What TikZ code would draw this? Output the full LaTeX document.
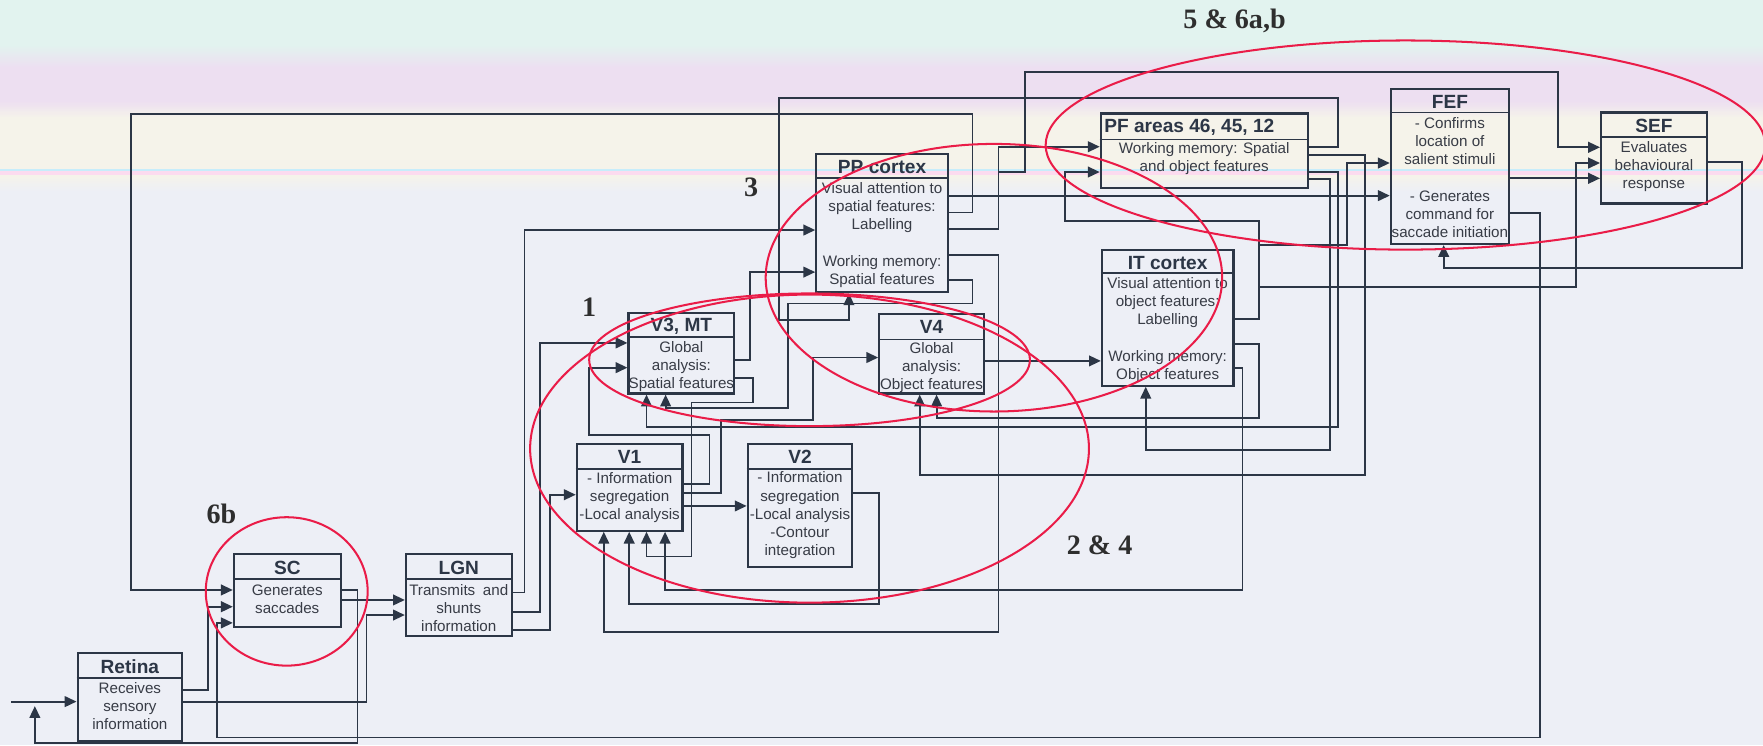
\documentclass[tikz,border=0pt]{standalone}
\usepackage{fontspec}
\setmainfont{Liberation Sans}
\newfontfamily\labelfont{Liberation Serif}
\usetikzlibrary{arrows.meta}
\definecolor{ink}{RGB}{44,54,70}
\definecolor{txt}{RGB}{56,60,70}
\definecolor{ringred}{RGB}{234,28,72}
\definecolor{bgmain}{RGB}{237,239,246}
\definecolor{bgmint}{RGB}{226,243,239}
\definecolor{bglav}{RGB}{237,223,241}
\definecolor{bgcream}{RGB}{245,243,234}
\begin{document}
\begin{tikzpicture}[x=1pt,y=-1pt,
  box/.style={draw=ink, line width=1.9pt, inner sep=0pt},
  divline/.style={draw=ink, line width=1.6pt},
  ttl/.style={font=\fontsize{17}{20}\selectfont\bfseries, text=ink, inner sep=0pt},
  body/.style={font=\fontsize{13.5}{16.2}\selectfont, text=txt, align=center, inner sep=0pt},
  wire/.style={draw=ink, line width=1.6pt},
  arr/.style={wire, -{Triangle[length=10.5pt,width=9.5pt]}},
  ring/.style={draw=ringred, line width=1.8pt},
  lbl/.style={font=\labelfont\bfseries\fontsize{25}{25}\selectfont, text=black!82, inner sep=0pt}]
\useasboundingbox (0,0) rectangle (1568,663);
% ---------- background (scan tint) ----------
\fill[bgmain] (0,0) rectangle (1568,663);
\fill[bgmint] (0,0) rectangle (1568,40);
\foreach \i in {0,...,19}{\pgfmathtruncatemacro\p{100-5*\i}\fill[bgmint!\p!bglav] (0,{40+\i}) rectangle (1568,{41+\i});}
\fill[bglav] (0,60) rectangle (1568,90);
\foreach \i in {0,...,14}{\pgfmathtruncatemacro\p{100-7*\i}\fill[bglav!\p!bgcream] (0,{90+\i}) rectangle (1568,{91+\i});}
\fill[bgcream] (0,105) rectangle (1568,150);
\foreach \i in {0,...,14}{\pgfmathtruncatemacro\p{100-7*\i}\fill[bgcream!\p!bgmain] (0,{156+\i}) rectangle (1568,{157+\i});}
\fill[cyan!22!white] (0,150) rectangle (1568,152.5);
\fill[magenta!14!white] (0,152.5) rectangle (1568,156);
% ---------- boxes ----------
\node[box, minimum width=93pt, minimum height=78pt] (retina) at (115.5,620) {};
\draw[divline] (retina.west |- 0,603) -- (retina.east |- 0,603);
\node[ttl] (retina-t) at (115.5,593) {Retina};
\node[body] (retina-b) at (115.5,628) {Receives\\sensory\\information};

\node[box, minimum width=95pt, minimum height=65pt] (sc) at (255.5,525.5) {};
\draw[divline] (sc.west |- 0,515) -- (sc.east |- 0,515);
\node[ttl] (sc-t) at (255.5,505) {SC};
\node[body] (sc-b) at (255.5,533) {Generates\\saccades};

\node[box, minimum width=94pt, minimum height=73pt] (lgn) at (408,529.5) {};
\draw[divline] (lgn.west |- 0,515) -- (lgn.east |- 0,515);
\node[ttl] (lgn-t) at (408,505) {LGN};
\node[body] (lgn-b) at (408,541) {Transmits\hspace{3pt} and\\shunts\\information};

\node[box, minimum width=94pt, minimum height=77pt] (v1) at (560,433.5) {};
\draw[divline] (v1.west |- 0,417) -- (v1.east |- 0,417);
\node[ttl] (v1-t) at (560,406.5) {V1};
\node[body] (v1-b) at (560,442.3) {- Information\\segregation\\-Local analysis};

\node[box, minimum width=93pt, minimum height=109pt] (v2) at (711.5,449.5) {};
\draw[divline] (v2.west |- 0,417) -- (v2.east |- 0,417);
\node[ttl] (v2-t) at (711.5,406.5) {V2};
\node[body] (v2-b) at (711.5,458.3) {- Information\\segregation\\-Local analysis\\-Contour\\integration};

\node[box, minimum width=94pt, minimum height=72pt] (v3) at (606,314) {};
\draw[divline] (v3.west |- 0,300) -- (v3.east |- 0,300);
\node[ttl] (v3-t) at (606,290) {V3, MT};
\node[body] (v3-b) at (606,326) {Global\\analysis:\\Spatial features};

\node[box, minimum width=93pt, minimum height=71pt] (v4) at (828.5,314.5) {};
\draw[divline] (v4.west |- 0,302) -- (v4.east |- 0,302);
\node[ttl] (v4-t) at (828.5,291) {V4};
\node[body] (v4-b) at (828.5,327) {Global\\analysis:\\Object features};

\node[box, minimum width=117pt, minimum height=123pt] (pp) at (784.5,198.5) {};
\draw[divline] (pp.west |- 0,158) -- (pp.east |- 0,158);
\node[ttl] (pp-t) at (784.5,148.5) {PP cortex};
\node[body] (pp-b) at (784.5,209) {Visual attention to\\spatial features:\\Labelling\\[16.2pt]Working memory:\\Spatial features};

\node[box, minimum width=117pt, minimum height=121pt] (it) at (1038.5,282.5) {};
\draw[divline] (it.west |- 0,243) -- (it.east |- 0,243);
\node[ttl] (it-t) at (1038.5,233.5) {IT cortex};
\node[body] (it-b) at (1038.5,293.5) {Visual attention to\\object features:\\Labelling\\[16.2pt]Working memory:\\Object features};

\node[box, minimum width=184pt, minimum height=66pt] (pf) at (1071,134) {};
\draw[divline] (pf.west |- 0,124) -- (pf.east |- 0,124);
\node[ttl, anchor=west] (pf-t) at (982,113.5) {PF areas 46, 45, 12};
\node[body] (pf-b) at (1071,141) {Working memory: Spatial\\and object features};

\node[box, minimum width=105pt, minimum height=138pt] (fef) at (1289.5,148) {};
\draw[divline] (fef.west |- 0,100) -- (fef.east |- 0,100);
\node[ttl] (fef-t) at (1289.5,90.5) {FEF};
\node[body] (fef-b) at (1289.5,158) {- Confirms\\location of\\salient stimuli\\[16.2pt]- Generates\\command for\\saccade initiation};

\node[box, minimum width=94pt, minimum height=81pt] (sef) at (1471,140.5) {};
\draw[divline] (sef.west |- 0,122) -- (sef.east |- 0,122);
\node[ttl] (sef-t) at (1471,112) {SEF};
\node[body] (sef-b) at (1471,148.2) {Evaluates\\behavioural\\response};
% ---------- free ends ----------
\coordinate (inp) at (10,624);
\coordinate (fb) at (31,628);
% ---------- connectors ----------
% input and Retina
\draw[arr] (inp) -- (retina.west |- 0,624);
\draw[arr] (retina.east |- 0,613.7) -- (185,613.7) -- (185,539.6) -- (sc.west |- 0,539.6);
\draw[arr] (retina.east |- 0,624) -- (326,624) -- (326,547) -- (lgn.west |- 0,547);
% SC
\draw[arr] (sc.east |- 0,533.6) -- (lgn.west |- 0,533.6);
\draw[arr] (sc.east |- 0,524.7) -- (318,524.7) -- (318,661) -- (31,661) -- (fb);
% LGN
\draw[arr] (lgn.east |- 0,527) -- (466.5,527) -- (466.5,204.6) -- (pp.west |- 0,204.6);
\draw[arr] (lgn.east |- 0,544) -- (480,544) -- (480,305) -- (v3.west |- 0,305);
\draw[arr] (lgn.east |- 0,560) -- (489,560) -- (489,440) -- (v1.west |- 0,440);
% V1
\draw[arr] (v1.east |- 0,430.5) -- (631,430.5) -- (631,387) -- (524,387) -- (524,327) -- (v3.west |- 0,327);
\draw[arr] (v1.east |- 0,438.6) -- (641,438.6) -- (641,373.5) -- (723,373.5) -- (723,318) -- (v4.west |- 0,318);
\draw[arr] (v1.east |- 0,450) -- (v2.west |- 0,450);
% V2
\draw[arr] (v2.east |- 0,438.6) -- (782,438.6) -- (782,537) -- (559.6,537) -- (v1.south -| 559.6,0);
% V3
\draw[arr] (v3.east |- 0,320) -- (667,320) -- (667,242) -- (pp.west |- 0,242);
\draw[arr] (v3.east |- 0,336) -- (670,336) -- (670,358) -- (615,358) -- (615,495) -- (575,495) -- (v1.south -| 575,0);
% V4
\draw[arr] (v4.east |- 0,321) -- (it.west |- 0,321);
% PP cortex
\draw[arr] (pp.east |- 0,174) -- (fef.west |- 0,174);
\draw[arr] (pp.east |- 0,189) -- (865,189) -- (865,101.5) -- (116.5,101.5) -- (116.5,524.7) -- (sc.west |- 0,524.7);
\draw[arr] (pp.east |- 0,204) -- (888,204) -- (888,130.5) -- (pf.west |- 0,130.5);
\draw[arr] (pp.east |- 0,204) -- (888,204) -- (888,152.7) -- (911.6,152.7) -- (911.6,64) -- (1386,64) -- (1386,131) -- (sef.west |- 0,131);
\draw[arr] (pp.east |- 0,227) -- (888,227) -- (888,562) -- (537,562) -- (v1.south -| 537,0);
\draw[arr] (pp.east |- 0,249) -- (865,249) -- (865,270) -- (701,270) -- (701,363) -- (592,363) -- (v3.south -| 592,0);
% IT cortex
\draw[arr] (it.east |- 0,284) -- (1120,284) -- (1120,196.5) -- (947,196.5) -- (947,153) -- (pf.west |- 0,153);
\draw[arr] (it.east |- 0,284) -- (1120,284) -- (1120,218) -- (1198,218) -- (1198,145) -- (fef.west |- 0,145);
\draw[arr] (it.east |- 0,284) -- (1120,284) -- (1120,255) -- (1401.6,255) -- (1401.6,145) -- (sef.west |- 0,145);
\draw[arr] (it.east |- 0,306) -- (1120,306) -- (1120,372) -- (833,372) -- (v4.south -| 833,0);
\draw[arr] (it.east |- 0,327.5) -- (1105,327.5) -- (1105,524.7) -- (591.5,524.7) -- (v1.south -| 591.5,0);
% PF areas
\draw[arr] (pf.east |- 0,131) -- (1190,131) -- (1190,87) -- (693,87) -- (693,284.6) -- (755,284.6) -- (pp.south -| 755,0);
\draw[arr] (pf.east |- 0,138) -- (1214,138) -- (1214,422.5) -- (818,422.5) -- (v4.south -| 818,0);
\draw[arr] (pf.east |- 0,153) -- (1190,153) -- (1190,379.5) -- (575,379.5) -- (v3.south -| 575,0);
\draw[arr] (pf.east |- 0,159) -- (1183,159) -- (1183,400) -- (1019,400) -- (it.south -| 1019,0);
% FEF
\draw[arr] (fef.east |- 0,158.6) -- (sef.west |- 0,158.6);
\draw[arr] (fef.east |- 0,189.6) -- (1369.6,189.6) -- (1369.6,656) -- (193,656) -- (193,554) -- (sc.west |- 0,554);
% SEF
\draw[arr] (sef.east |- 0,144) -- (1549,144) -- (1549,238.6) -- (1284,238.6) -- (fef.south -| 1284,0);
% ---------- red rings ----------
\draw[ring] (1250,129) ellipse [x radius=320, y radius=93];
\draw[ring] (884,247) ellipse [x radius=203, y radius=119];
\draw[ring] (720,399) ellipse [x radius=248.5, y radius=137];
\draw[ring] (720,320) ellipse [x radius=196, y radius=59];
\draw[ring] (255,526) ellipse [x radius=72, y radius=66];
% ---------- labels ----------
\node[lbl] (l56) at (1098,19) {5 \& 6a,b};
\node[lbl] (l3) at (668,167) {3};
\node[lbl] (l1) at (524,273.5) {1};
\node[lbl] (l6b) at (197,457) {6b};
\node[lbl] (l24) at (978,485) {2 \& 4};
\end{tikzpicture}
\end{document}
